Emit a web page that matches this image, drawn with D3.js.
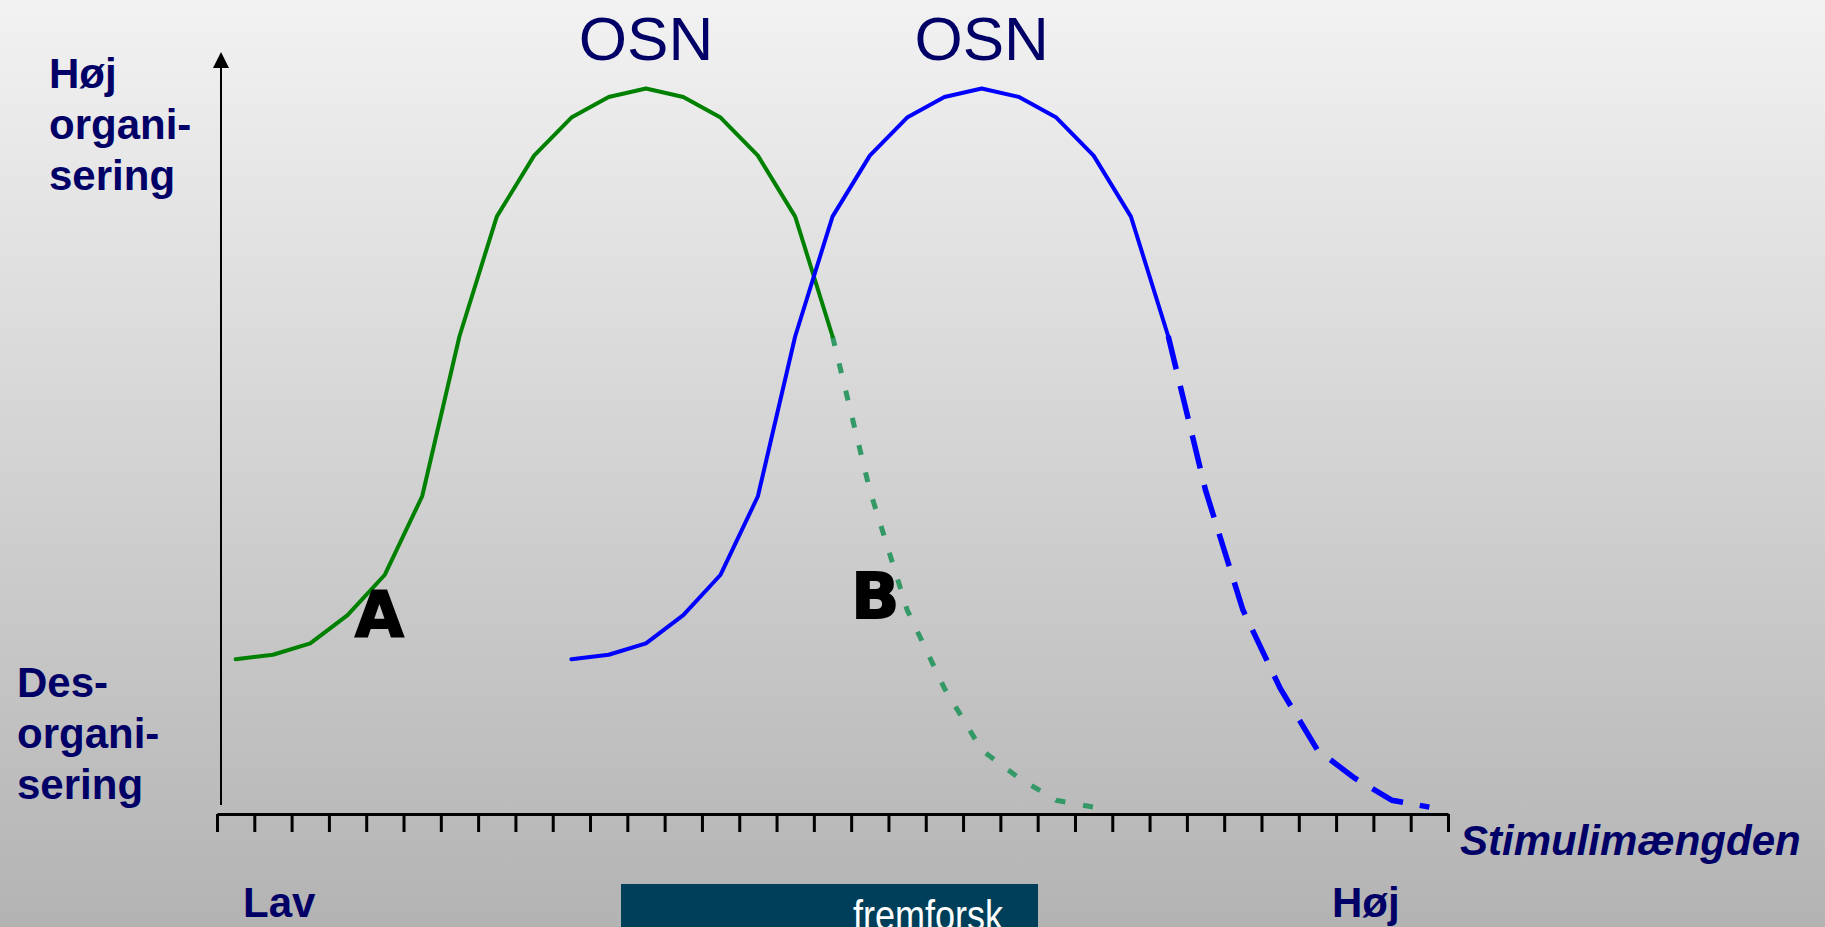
<!DOCTYPE html>
<html>
<head>
<meta charset="utf-8">
<script src="https://cdn.jsdelivr.net/npm/d3@7"></script>
<style>
	html, body { margin: 0; padding: 0; overflow: hidden; }
	svg { display: block; }
</style>
</head>
<body>
<script>
// tick slots along the stimulus axis
var tickSlots = d3.range(34);

// where each curve begins (in tick slots)
var curveStarts = [0.5, 9.5];

// organisation level, solid part (rise, peak and first fall)
var riseLevels = [20.3, 20.9, 22.4, 26.1, 31.4, 41.7, 62.7, 78.4, 86.4, 91.4, 94.1, 95.2, 94.1, 91.4, 86.4, 78.4, 62.7];

// organisation level, dashed tail towards des-organisation
var fallLevels = [62.7, 42.5, 26.8, 16.5, 8.4, 4.7, 1.8, 0.9];

var peakLabels = ["OSN", "OSN"];
var pointLabels = ["A", "B"];
var yTopLabel = ["Høj", "organi-", "sering"];
var yBottomLabel = ["Des-", "organi-", "sering"];
var xEndLabels = ["Lav", "Høj"];
var xTitle = "Stimulimængden";
var brand = "fremforsk";

var W = 1825, H = 927;
var NAVY = "#000066",
	FONT = "'Liberation Sans', Arial, sans-serif";

var svg = d3.select("body").append("svg")
	.attr("width", W)
	.attr("height", H);

var grad = svg.append("defs").append("linearGradient")
	.attr("id", "bg")
	.attr("x1", 0).attr("y1", 0).attr("x2", 0).attr("y2", 1);
grad.append("stop").attr("offset", "0%").attr("stop-color", "#f2f2f2");
grad.append("stop").attr("offset", "100%").attr("stop-color", "#b3b3b3");

svg.append("rect")
	.attr("width", W).attr("height", H)
	.attr("fill", "url(#bg)");

var x = d3.scaleLinear().domain([0, 33]).range([217, 1448]),
	y = d3.scaleLinear().domain([0, 100]).range([814, 52]);

// stimulus axis with plain ticks
var xAxis = svg.append("g")
	.attr("transform", "translate(0," + y(0) + ")")
	.call(d3.axisBottom(x)
		.tickValues(tickSlots)
		.tickSize(18)
		.tickSizeOuter(0)
		.tickFormat(""));
xAxis.select(".domain").attr("stroke", "#000").attr("stroke-width", 3);
xAxis.selectAll(".tick line").attr("stroke", "#000").attr("stroke-width", 3);

// organisation axis with arrow
var yx = 221;
svg.append("line")
	.attr("x1", yx).attr("x2", yx)
	.attr("y1", y(0) - 9).attr("y2", y(100) + 14)
	.attr("stroke", "#000").attr("stroke-width", 2);
svg.append("path")
	.attr("d", "M" + (yx - 8) + "," + (y(100) + 16) + "L" + yx + "," + y(100) + "L" + (yx + 8) + "," + (y(100) + 16) + "Z")
	.attr("fill", "#000");

var line = d3.line()
	.x(function(d) { return x(d.i); })
	.y(function(d) { return y(d.v); });

var styles = [
	{ solid: "#008000", tail: "#339966", dash: "10,18", width: 4, tailWidth: 5 },
	{ solid: "#0000ff", tail: "#0000ff", dash: "34,17", width: 4, tailWidth: 5.5 }
];

curveStarts.forEach(function(start, c) {
	var st = styles[c];
	var rise = riseLevels.map(function(v, k) { return { i: start + k, v: v }; });
	var fall = fallLevels.map(function(v, k) { return { i: start + riseLevels.length - 1 + k, v: v }; });

	svg.append("path")
		.datum(fall)
		.attr("d", line)
		.attr("fill", "none")
		.attr("stroke", st.tail)
		.attr("stroke-width", st.tailWidth)
		.attr("stroke-dasharray", st.dash);

	svg.append("path")
		.datum(rise)
		.attr("d", line)
		.attr("fill", "none")
		.attr("stroke", st.solid)
		.attr("stroke-width", st.width)
		.attr("stroke-linejoin", "round")
		.attr("stroke-linecap", "round");

	// OSN over each peak
	svg.append("text")
		.attr("x", x(start + 11))
		.attr("y", 60)
		.attr("text-anchor", "middle")
		.attr("font-family", FONT)
		.attr("font-size", 62)
		.attr("fill", NAVY)
		.text(peakLabels[c]);
});

// A and B markers
var markerPos = [[3.7, 23.4], [17.0, 25.7]];
svg.selectAll("text.marker")
	.data(pointLabels)
	.enter().append("text")
	.attr("class", "marker")
	.attr("x", function(d, k) { return x(markerPos[k][0]); })
	.attr("y", function(d, k) { return y(markerPos[k][1]); })
	.attr("font-family", "'DejaVu Sans', sans-serif")
	.attr("font-weight", "bold")
	.attr("font-size", 63)
	.attr("fill", "#000")
	.attr("stroke", "#000")
	.attr("stroke-width", 1.8)
	.text(function(d) { return d; });

function stack(lines, left, top) {
	svg.append("g").selectAll("text")
		.data(lines)
		.enter().append("text")
		.attr("x", left)
		.attr("y", function(d, k) { return top + k * 51; })
		.attr("font-family", FONT)
		.attr("font-weight", "bold")
		.attr("font-size", 42)
		.attr("fill", NAVY)
		.text(function(d) { return d; });
}

stack(yTopLabel, 49, 88);
stack(yBottomLabel, 17, 697);

svg.selectAll("text.end")
	.data(xEndLabels)
	.enter().append("text")
	.attr("class", "end")
	.attr("x", function(d, k) { return k ? 1332 : 243; })
	.attr("y", 917)
	.attr("font-family", FONT)
	.attr("font-weight", "bold")
	.attr("font-size", 42)
	.attr("fill", NAVY)
	.text(function(d) { return d; });

svg.append("text")
	.attr("x", 1460)
	.attr("y", 855)
	.attr("font-family", FONT)
	.attr("font-weight", "bold")
	.attr("font-style", "italic")
	.attr("font-size", 42)
	.attr("fill", NAVY)
	.text(xTitle);

// brand strip at the bottom
svg.append("rect")
	.attr("x", 621).attr("y", 884)
	.attr("width", 417).attr("height", 60)
	.attr("fill", "#003f5a");

svg.append("text")
	.attr("x", 853)
	.attr("y", 930)
	.attr("font-family", "'Liberation Sans Narrow', 'Arial Narrow', sans-serif")
	.attr("font-size", 42)
	.attr("textLength", 150)
	.attr("lengthAdjust", "spacingAndGlyphs")
	.attr("fill", "#fff")
	.text(brand);
</script>
</body>
</html>
